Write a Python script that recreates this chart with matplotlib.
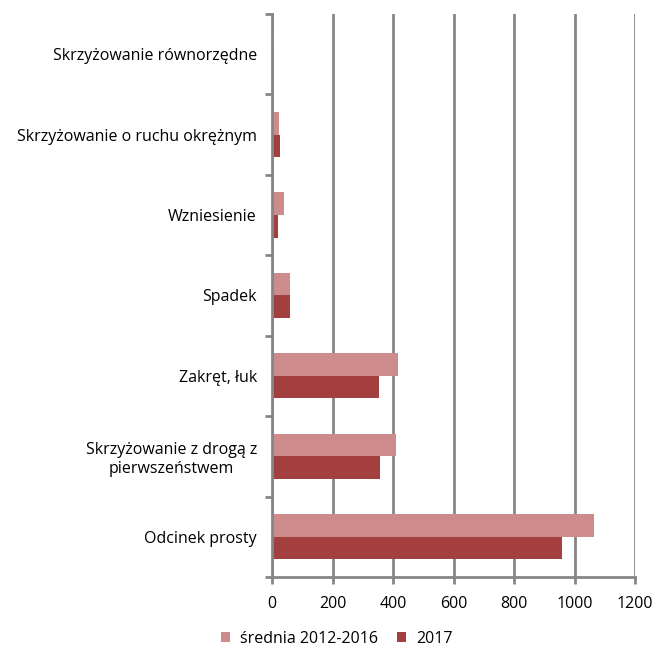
import matplotlib.pyplot as plt
import numpy as np

categories = [
    "Odcinek prosty",
    "Skrzyżowanie z drogą z\npierwszeństwem",
    "Zakręt, łuk",
    "Spadek",
    "Wzniesienie",
    "Skrzyżowanie o ruchu okrężnym",
    "Skrzyżowanie równorzędne",
]
avg_2012_2016 = [1066, 409, 417, 58, 39, 24, 7]
y2017 = [957, 356, 352, 58, 19, 26, 0]
series_labels = ["średnia 2012-2016", "2017"]
xticks = [0, 200, 400, 600, 800, 1000, 1200]

LIGHT = "#CD8B8B"
DARK = "#A33F3F"
GRID = "#868686"

plt.rcParams["font.family"] = ["Open Sans", "DejaVu Sans"]

fig = plt.figure(figsize=(6.56, 6.48), dpi=100)
ax = fig.add_axes([0.415, 0.1096, 0.553, 0.869])

y = np.arange(len(categories))
h = 0.28
ax.barh(y + h / 2, avg_2012_2016, h, color=LIGHT, label=series_labels[0], zorder=3)
ax.barh(y - h / 2, y2017, h, color=DARK, label=series_labels[1], zorder=3)

ax.set_xlim(0, 1200)
ax.set_ylim(-0.5, len(categories) - 0.5)
ax.set_xticks(xticks)
ax.set_xticklabels([str(t) for t in xticks], fontsize=11.5)
ax.set_yticks(y)
ax.set_yticklabels(categories, fontsize=11.5, multialignment="center")
ax.set_yticks(np.arange(-0.5, len(categories), 1.0), minor=True)
ax.tick_params(axis="y", which="major", length=0, pad=11)
ax.tick_params(axis="y", which="minor", length=5, width=2, color=GRID, direction="out")
ax.tick_params(axis="x", length=5, width=2, color=GRID, direction="out", pad=9)

ax.grid(axis="x", color=GRID, linewidth=2, zorder=0)
for side in ["top", "right"]:
    ax.spines[side].set_visible(False)
for side in ["left", "bottom"]:
    ax.spines[side].set_color(GRID)
    ax.spines[side].set_linewidth(2)
    ax.spines[side].set_zorder(4)

fig.legend(loc="lower center", bbox_to_anchor=(0.513, -0.02), ncol=2, frameon=False,
           fontsize=11.5, handlelength=0.6, handleheight=0.6, columnspacing=1.2,
           handletextpad=0.6)

fig.savefig("out.png", dpi=100)
